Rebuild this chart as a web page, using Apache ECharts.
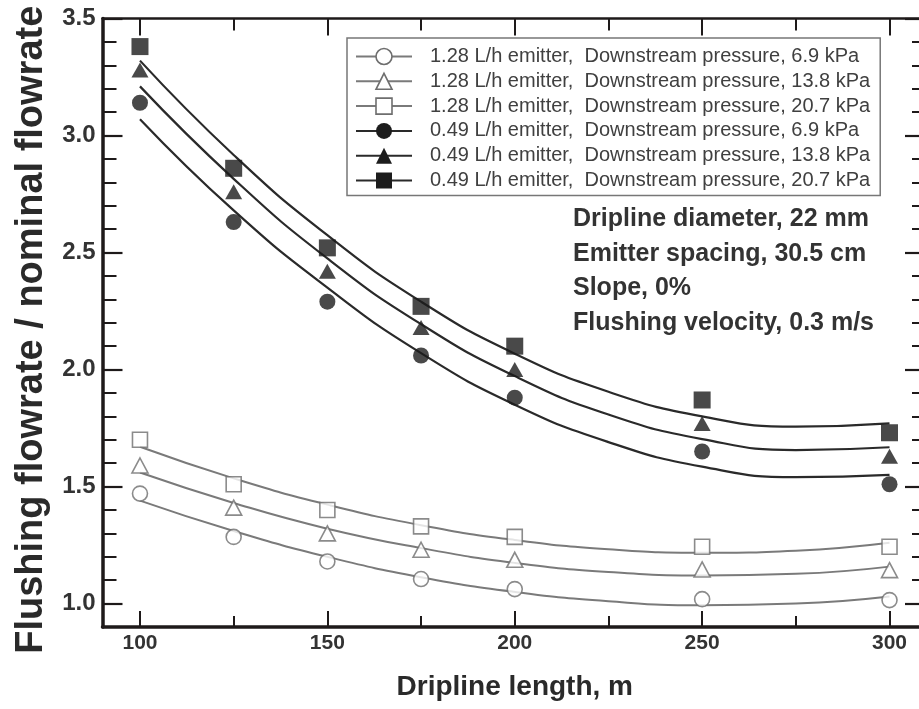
<!DOCTYPE html>
<html>
<head>
<meta charset="utf-8">
<script src="https://cdn.jsdelivr.net/npm/echarts@6/dist/echarts.min.js"></script>
<style>
  html, body { margin: 0; padding: 0; background: #fff; }
  #chart { width: 919px; height: 709px; }
</style>
</head>
<body>
<div id="chart"></div>
<script>
// Dripline lengths (m) at which flushing flow was measured
const lengths = [100, 125, 150, 175, 200, 250, 300];

// Measured flushing flowrate / nominal flowrate
const q128_69  = [1.47, 1.285, 1.18, 1.105, 1.062, 1.019, 1.015];
const q128_138 = [1.59, 1.41, 1.30, 1.23, 1.187, 1.146, 1.143];
const q128_207 = [1.70, 1.51, 1.40, 1.33, 1.285, 1.243, 1.243];
const q049_69  = [3.14, 2.63, 2.29, 2.06, 1.88, 1.65, 1.51];
const q049_138 = [3.28, 2.76, 2.42, 2.18, 2.00, 1.77, 1.63];
const q049_207 = [3.38, 2.86, 2.52, 2.27, 2.10, 1.87, 1.73];

// Trend curves through each data set, sampled every 25 m
const fitLengths = [100, 125, 150, 175, 200, 225, 250, 275, 300];
const fit128_69  = [1.44, 1.31, 1.20, 1.113, 1.05, 1.01, 0.993, 1.00, 1.03];
const fit128_138 = [1.56, 1.43, 1.32, 1.237, 1.174, 1.135, 1.12, 1.127, 1.158];
const fit128_207 = [1.67, 1.535, 1.423, 1.335, 1.272, 1.232, 1.217, 1.226, 1.26];
const fit049_69  = [3.07, 2.68, 2.35, 2.07, 1.85, 1.69, 1.585, 1.54, 1.55];
const fit049_138 = [3.21, 2.815, 2.475, 2.194, 1.972, 1.808, 1.703, 1.656, 1.668];
const fit049_207 = [3.32, 2.917, 2.574, 2.29, 2.068, 1.905, 1.80, 1.756, 1.77];

const seriesNames = [
  '1.28 L/h emitter,  Downstream pressure, 6.9 kPa',
  '1.28 L/h emitter,  Downstream pressure, 13.8 kPa',
  '1.28 L/h emitter,  Downstream pressure, 20.7 kPa',
  '0.49 L/h emitter,  Downstream pressure, 6.9 kPa',
  '0.49 L/h emitter,  Downstream pressure, 13.8 kPa',
  '0.49 L/h emitter,  Downstream pressure, 20.7 kPa'
];

// Axis ticks
const xMinorTicks = [100, 125, 150, 175, 200, 225, 250, 275, 300];
const xTickLabels = [100, 150, 200, 250, 300];
const yTickLabels = [1.0, 1.5, 2.0, 2.5, 3.0, 3.5];

const notes = [
  'Dripline diameter, 22 mm',
  'Emitter spacing, 30.5 cm',
  'Slope, 0%',
  'Flushing velocity, 0.3 m/s'
];

const FONT = '"Liberation Sans", Arial, Helvetica, sans-serif';
const AXIS = '#1e1a1a';
const DARK = '#1c1c1c';
const DARK_LINE = '#2a2a2a';
const GREY = '#6e6e6e';
const GREY_LINE = '#7a7a7a';

const measured = [q128_69, q128_138, q128_207, q049_69, q049_138, q049_207];
const fitted = [fit128_69, fit128_138, fit128_207, fit049_69, fit049_138, fit049_207];

const marks = [
  { symbol: 'circle',   size: 15,       open: true },
  { symbol: 'triangle', size: [16, 15], open: true },
  { symbol: 'rect',     size: 15,       open: true },
  { symbol: 'circle',   size: 16,       open: false },
  { symbol: 'triangle', size: [17, 15], open: false },
  { symbol: 'rect',     size: 17,       open: false }
];

function markStyle(m) {
  return m.open
    ? { color: '#ffffff', borderColor: GREY, borderWidth: 1.6 }
    : { color: DARK, borderColor: DARK, borderWidth: 0 };
}

const series = [];
// fitted curves first so that the legend draws a line with its marker
seriesNames.forEach((name, i) => {
  const m = marks[i];
  series.push({
    type: 'line', name, xAxisIndex: 0, yAxisIndex: 0,
    data: fitLengths.map((x, k) => [x, fitted[i][k]]),
    smooth: true, showSymbol: false, symbol: m.symbol, symbolSize: 12,
    lineStyle: { color: m.open ? GREY_LINE : DARK_LINE, width: m.open ? 2 : 2.2 },
    itemStyle: markStyle(m),
    silent: true, z: 2
  });
});
seriesNames.forEach((name, i) => {
  const m = marks[i];
  series.push({
    type: 'scatter', name, xAxisIndex: 0, yAxisIndex: 0,
    data: lengths.map((x, k) => [x, measured[i][k]]),
    symbol: m.symbol, symbolSize: m.size,
    itemStyle: markStyle(m),
    silent: true, z: 3
  });
});

// plot frame runs from 90 m to 310 m; its right edge falls just past the page edge
const gridBox = {
  left: 102.5, width: 824.5, top: 18.5, height: 608.5,
  containLabel: false, outerBoundsMode: 'none'
};

function tickAxis(extra) {
  return Object.assign({
    type: 'value',
    splitLine: { show: false },
    axisLabel: { show: false },
    axisLine: { show: false }
  }, extra);
}

const xRange = { min: 90, max: 310 };
const yRange = { min: 0.9, max: 3.5 };

const option = {
  animation: false,
  backgroundColor: '#ffffff',
  grid: [Object.assign({}, gridBox), Object.assign({}, gridBox)],
  xAxis: [
    tickAxis(Object.assign({
      gridIndex: 0, position: 'bottom',
      axisLine: { show: true, onZero: false, lineStyle: { color: AXIS, width: 3.5 } },
      axisTick: { show: true, inside: true, length: 11, customValues: xMinorTicks, lineStyle: { color: AXIS, width: 2 } }
    }, xRange)),
    tickAxis(Object.assign({
      gridIndex: 0, position: 'top',
      axisLine: { show: true, onZero: false, lineStyle: { color: AXIS, width: 2.5 } },
      axisTick: { show: true, inside: true, length: 12, customValues: xMinorTicks, lineStyle: { color: AXIS, width: 2 } }
    }, xRange)),
    tickAxis(Object.assign({
      gridIndex: 1, position: 'bottom',
      axisTick: { show: true, inside: true, length: 16, customValues: xTickLabels, lineStyle: { color: AXIS, width: 2 } },
      axisLabel: {
        show: true, customValues: xTickLabels, margin: 6,
        fontFamily: FONT, fontWeight: 'bold', fontSize: 21, color: '#333'
      },
      name: 'Dripline length, m', nameLocation: 'middle', nameGap: 46,
      nameTextStyle: { fontFamily: FONT, fontWeight: 'bold', fontSize: 28, color: '#2a2a2a' }
    }, xRange)),
    tickAxis(Object.assign({
      gridIndex: 1, position: 'top',
      axisTick: { show: true, inside: true, length: 17, customValues: xTickLabels, lineStyle: { color: AXIS, width: 2 } }
    }, xRange))
  ],
  yAxis: [
    tickAxis(Object.assign({
      gridIndex: 0, position: 'left', interval: 0.1,
      axisLine: { show: true, onZero: false, lineStyle: { color: AXIS, width: 3.5 } },
      axisTick: { show: true, inside: true, length: 14, lineStyle: { color: AXIS, width: 2 } }
    }, yRange)),
    tickAxis(Object.assign({
      gridIndex: 0, position: 'right', interval: 0.1,
      axisLine: { show: true, onZero: false, lineStyle: { color: AXIS, width: 3 } },
      axisTick: { show: true, inside: true, length: 15, lineStyle: { color: AXIS, width: 2 } }
    }, yRange)),
    tickAxis(Object.assign({
      gridIndex: 1, position: 'left',
      axisTick: { show: true, inside: true, length: 20, customValues: yTickLabels, lineStyle: { color: AXIS, width: 2.2 } },
      axisLabel: {
        show: true, customValues: yTickLabels, margin: 7,
        formatter: v => Number(v).toFixed(1),
        fontFamily: FONT, fontWeight: 'bold', fontSize: 24, color: '#333'
      },
      name: 'Flushing flowrate / nominal flowrate', nameLocation: 'middle', nameGap: 52,
      nameTextStyle: { fontFamily: FONT, fontWeight: 'bold', fontSize: 38, color: '#2a2a2a', padding: [0, 14, 0, 0] }
    }, yRange)),
    tickAxis(Object.assign({
      gridIndex: 1, position: 'right',
      axisTick: { show: true, inside: true, length: 22, customValues: yTickLabels, lineStyle: { color: AXIS, width: 2.2 } }
    }, yRange))
  ],
  legend: {
    orient: 'vertical', left: 347, top: 38,
    itemWidth: 56, itemHeight: 20, itemGap: 4.8,
    padding: [8.5, 10, 5, 8],
    backgroundColor: '#ffffff', borderColor: '#777', borderWidth: 1.5,
    selectedMode: false,
    textStyle: { fontFamily: FONT, fontSize: 20, color: '#404040', padding: [0, 0, 0, 13] },
    data: seriesNames.map((name, i) => ({ name, itemStyle: markStyle(marks[i]) }))
  },
  graphic: notes.map((t, i) => ({
    type: 'text', x: 573, y: 219 + i * 34.7, silent: true,
    style: {
      text: t, fill: '#333', fontFamily: FONT, fontWeight: 'bold', fontSize: 25,
      verticalAlign: 'middle', align: 'left'
    }
  })),
  series
};

const chart = echarts.init(document.getElementById('chart'), null, { renderer: 'canvas' });
chart.setOption(option);
</script>
</body>
</html>
